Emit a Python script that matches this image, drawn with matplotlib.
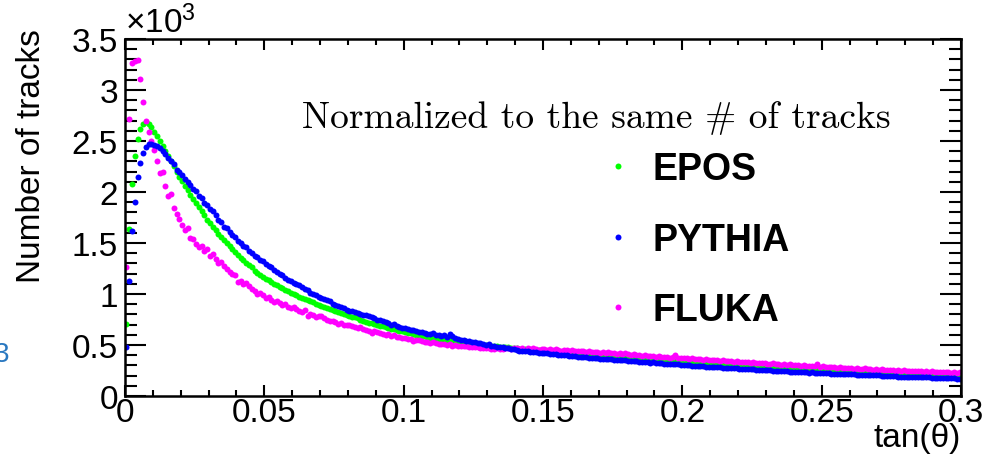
import numpy as np
import matplotlib
matplotlib.use("Agg")
import matplotlib.pyplot as plt
from matplotlib.ticker import MultipleLocator, FuncFormatter

plt.rcParams['font.family'] = ['Liberation Sans', 'DejaVu Sans']
plt.rcParams['mathtext.fontset'] = 'custom'
plt.rcParams['mathtext.rm'] = 'Liberation Sans'

# tan(theta) histogram, 300 bins between 0 and 0.3
n_bins = 300
x_min, x_max = 0.0, 0.3

epos = [
    710, 1640, 2080, 2350, 2520, 2620, 2670, 2690, 2670, 2640, 2590, 2550, 2500, 2450, 2400, 2350, 2300, 2250, 2200, 2150,
    2110, 2060, 2020, 1970, 1930, 1890, 1850, 1810, 1770, 1730, 1700, 1660, 1630, 1590, 1560, 1530, 1500, 1470, 1440, 1410,
    1380, 1350, 1330, 1300, 1280, 1260, 1230, 1210, 1190, 1170, 1150, 1140, 1120, 1100, 1090, 1070, 1060, 1040, 1030, 1010,
    1000, 990, 970, 960, 950, 940, 930, 920, 900, 890, 880, 870, 860, 850, 840, 830, 820, 810, 800, 790,
    780, 770, 770, 760, 750, 740, 730, 720, 720, 710, 700, 690, 690, 680, 670, 660, 660, 650, 640, 640,
    630, 620, 620, 610, 600, 600, 590, 590, 580, 570, 570, 565, 560, 555, 550, 548, 545, 540, 535, 532,
    530, 526, 523, 520, 516, 513, 510, 507, 503, 500, 497, 494, 491, 488, 485, 482, 479, 476, 473, 470,
    467, 465, 462, 460, 457, 455, 452, 450, 447, 445, 443, 440, 438, 435, 433, 431, 428, 426, 424, 422,
    420, 418, 416, 414, 412, 410, 408, 406, 404, 402, 400, 398, 396, 394, 392, 390, 388, 386, 384, 382,
    380, 378, 376, 374, 372, 370, 368, 366, 364, 362, 360, 358, 356, 354, 352, 350, 348, 346, 344, 342,
    340, 338, 337, 335, 333, 332, 330, 328, 327, 325, 323, 322, 320, 318, 317, 315, 313, 312, 310, 309,
    308, 306, 305, 303, 302, 300, 299, 297, 296, 294, 293, 292, 290, 289, 287, 286, 285, 283, 282, 280,
    279, 278, 276, 275, 274, 272, 271, 270, 268, 267, 266, 265, 263, 262, 261, 260, 258, 257, 256, 255,
    254, 252, 251, 250, 249, 248, 246, 245, 244, 243, 242, 241, 239, 238, 237, 236, 235, 234, 233, 232,
    231, 229, 228, 227, 226, 225, 224, 223, 222, 221, 220, 219, 218, 217, 216, 215, 214, 213, 212, 211,
]

pythia = [
    480, 1130, 1620, 1900, 2150, 2280, 2380, 2440, 2470, 2470, 2460, 2450, 2430, 2400, 2370, 2330, 2300, 2270, 2220, 2200,
    2170, 2130, 2100, 2070, 2030, 2010, 1960, 1940, 1890, 1870, 1830, 1810, 1770, 1730, 1710, 1660, 1650, 1610, 1580, 1560,
    1520, 1500, 1470, 1460, 1420, 1400, 1370, 1360, 1330, 1320, 1290, 1270, 1260, 1240, 1220, 1200, 1190, 1160, 1140, 1130,
    1110, 1100, 1090, 1070, 1050, 1040, 1010, 1000, 990, 970, 960, 950, 940, 930, 900, 890, 880, 870, 860, 840,
    830, 830, 820, 810, 800, 790, 790, 780, 770, 760, 750, 750, 740, 730, 720, 700, 710, 690, 680, 670,
    670, 660, 650, 650, 640, 630, 630, 620, 610, 610, 620, 600, 600, 590, 600, 580, 610, 590, 570, 560,
    550, 548, 540, 538, 530, 526, 522, 515, 512, 500, 506, 495, 492, 485, 480, 479, 472, 470, 462, 460,
    450, 446, 442, 438, 437, 432, 431, 428, 424, 423, 420, 418, 414, 413, 410, 406, 405, 401, 398, 396,
    392, 391, 386, 385, 383, 379, 376, 375, 372, 370, 367, 366, 362, 361, 359, 357, 355, 352, 351, 349,
    347, 345, 341, 342, 337, 335, 336, 331, 328, 330, 325, 323, 322, 318, 317, 316, 312, 311, 309, 306,
    305, 306, 301, 298, 299, 294, 293, 295, 289, 287, 287, 283, 282, 284, 278, 277, 276, 273, 272, 271,
    268, 267, 268, 263, 262, 263, 259, 257, 258, 254, 252, 253, 249, 249, 250, 245, 243, 243, 240, 240,
    239, 236, 235, 235, 231, 230, 231, 227, 227, 228, 223, 222, 223, 219, 218, 219, 215, 215, 216, 212,
    211, 212, 208, 208, 208, 205, 204, 205, 201, 201, 202, 198, 198, 198, 194, 194, 195, 191, 191, 191,
    188, 188, 188, 185, 185, 186, 182, 182, 182, 179, 179, 180, 176, 176, 176, 173, 173, 173, 170, 170,
]

fluka = [
    1260, 2720, 3260, 3280, 3290, 3110, 2880, 2700, 2590, 2500, 2410, 2300, 2190, 2200, 2060, 1960, 1980, 1840, 1780, 1740,
    1680, 1630, 1650, 1550, 1540, 1490, 1460, 1470, 1420, 1440, 1370, 1390, 1340, 1300, 1310, 1270, 1250, 1220, 1200, 1190,
    1120, 1130, 1100, 1110, 1080, 1050, 1030, 1000, 1010, 990, 960, 970, 940, 920, 930, 910, 890, 900, 870, 860,
    870, 850, 830, 820, 840, 780, 800, 790, 770, 780, 780, 760, 750, 740, 740, 730, 710, 720, 700, 700,
    700, 690, 680, 670, 680, 660, 650, 640, 620, 640, 630, 620, 610, 600, 605, 590, 595, 580, 575, 570,
    565, 560, 555, 540, 550, 545, 535, 530, 530, 520, 525, 515, 510, 512, 505, 500, 506, 495, 500, 490,
    494, 486, 490, 481, 484, 476, 479, 471, 474, 468, 470, 462, 464, 471, 456, 461, 466, 470, 459, 466,
    471, 463, 467, 454, 466, 457, 470, 461, 452, 459, 463, 449, 456, 447, 461, 452, 444, 455, 448, 441,
    450, 439, 446, 437, 445, 434, 442, 431, 436, 427, 424, 433, 421, 428, 419, 426, 414, 421, 410, 417,
    411, 404, 409, 399, 404, 397, 402, 394, 390, 397, 387, 392, 384, 380, 386, 377, 381, 403, 372, 377,
    369, 374, 366, 371, 361, 367, 359, 356, 362, 352, 357, 350, 354, 345, 350, 343, 340, 346, 337, 342,
    336, 331, 338, 329, 326, 331, 323, 328, 320, 325, 317, 314, 320, 312, 316, 307, 312, 305, 309, 301,
    306, 300, 297, 304, 295, 292, 298, 290, 315, 286, 290, 284, 288, 280, 284, 277, 282, 274, 278, 272,
    276, 269, 274, 267, 265, 270, 262, 266, 259, 264, 257, 261, 255, 258, 252, 256, 250, 253, 247, 252,
    246, 250, 243, 248, 242, 246, 239, 244, 237, 242, 236, 240, 233, 238, 232, 236, 229, 234, 228, 240,
]

edges = np.linspace(x_min, x_max, n_bins + 1)
centers = 0.5 * (edges[:-1] + edges[1:])

fig = plt.figure(figsize=(9.92, 4.56), dpi=100)
ax = fig.add_axes([125 / 992, 1 - 397 / 456, 836 / 992, 357 / 456])

ms = 4.3
ax.plot(centers, epos, "o", color="#00ff00", ms=ms, mew=0, label="EPOS")
ax.plot(centers, fluka, "o", color="#ff00ff", ms=ms, mew=0, label="FLUKA")
ax.plot(centers, pythia, "o", color="#0000ff", ms=ms, mew=0, label="PYTHIA")

ax.set_xlim(x_min, x_max)
ax.set_ylim(0, 3500)

# ROOT-like frame: ticks inside on all four sides
ax.xaxis.set_major_locator(MultipleLocator(0.05))
ax.xaxis.set_minor_locator(MultipleLocator(0.01))
ax.yaxis.set_major_locator(MultipleLocator(500))
ax.yaxis.set_minor_locator(MultipleLocator(100))
ax.xaxis.set_major_formatter(FuncFormatter(lambda v, p: "%g" % round(v, 3)))
ax.yaxis.set_major_formatter(FuncFormatter(lambda v, p: "%g" % (v / 1000)))
ax.tick_params(which="both", direction="in", top=True, right=True, width=1.5, labelsize=24)
ax.tick_params(axis="x", which="major", length=8, pad=1)
ax.tick_params(axis="x", which="minor", length=4.5)
ax.tick_params(axis="y", which="major", length=15, pad=5)
ax.tick_params(axis="y", which="minor", length=8.5)
for s in ax.spines.values():
    s.set_linewidth(1.8)

ax.text(0.0, 1.0, r"$\mathregular{\times10^{3}}$", transform=ax.transAxes,
        fontsize=24, ha="left", va="bottom")

ax.set_ylabel("Number of tracks", fontsize=24, loc="top")
ax.yaxis.set_label_coords(-0.093, 1.03)
ax.set_xlabel("tan(θ)", fontsize=24, loc="right")
ax.xaxis.set_label_coords(1.0, -0.074)

ax.text(0.212, 0.753, "Normalized to the same # of tracks", transform=ax.transAxes,
        fontsize=27, family="cmr10", ha="left", va="baseline")

h, l = ax.get_legend_handles_labels()
order = [0, 2, 1]
leg = ax.legend([h[i] for i in order], [l[i] for i in order],
                loc="upper left", bbox_to_anchor=(0.567, 0.685), frameon=False,
                prop={"family": "Liberation Sans", "weight": "bold", "size": 27},
                handlelength=1.0, handletextpad=0.42, labelspacing=0.92,
                borderpad=0, borderaxespad=0)

fig.text(-0.006, 1 - 355 / 456, "3", color="#2a78c0", fontsize=20, ha="left", va="center")

fig.savefig("out.png", dpi=100)
